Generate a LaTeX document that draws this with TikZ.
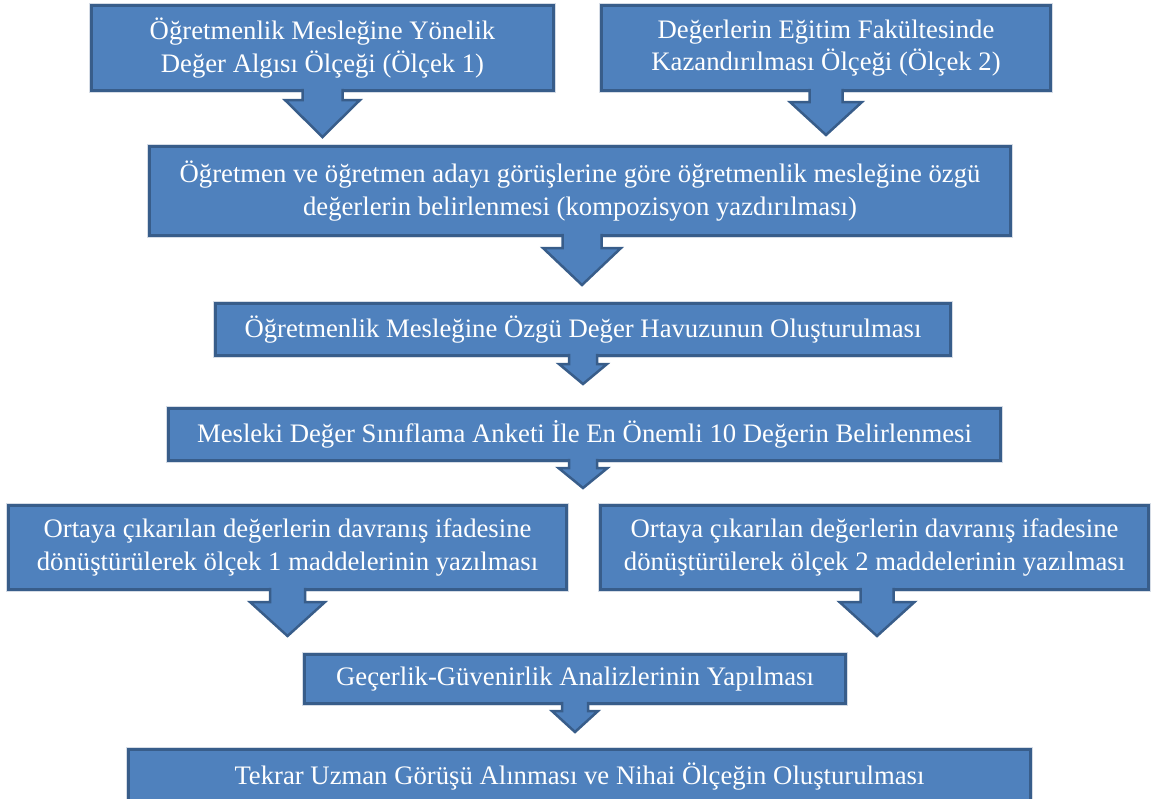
\documentclass[tikz,border=0pt]{standalone}
\usepackage{fontspec}
\setmainfont{Liberation Serif}
\usetikzlibrary{calc}
\definecolor{boxfill}{HTML}{4F81BD}
\definecolor{boxline}{HTML}{385D8A}
\definecolor{glow}{HTML}{D5DCE6}
\tikzset{
  flowbox/.style={draw=boxline, line width=3pt, fill=boxfill, text=white,
    align=center, inner sep=0pt, outer sep=0pt,
    font=\fontsize{26.7}{32.5}\selectfont,
    preaction={draw=glow, line width=5.5pt}},
  arrfill/.style={fill=boxfill},
  arrline/.style={draw=boxline, line width=2.5pt, line join=miter},
}
% #1 source node, #2 target node, #3 x offset, #4 stem half width,
% #5 head half width, #6 stem length, #7 gap before target
\newcommand{\blockarr}[7]{%
  \fill[arrfill] let \p1=($(#1.south)+(#3pt,0pt)$), \p2=(#2.north) in
    (\x1-#4pt,\y1+1.6pt) -- (\x1-#4pt,\y1-#6pt-1.5pt) -- (\x1-#5pt,\y1-#6pt-1.5pt)
    -- (\x1,\y2+#7pt+1.5pt) -- (\x1+#5pt,\y1-#6pt-1.5pt) -- (\x1+#4pt,\y1-#6pt-1.5pt)
    -- (\x1+#4pt,\y1+1.6pt) -- cycle;
  \draw[arrline] let \p1=($(#1.south)+(#3pt,0pt)$), \p2=(#2.north) in
    (\x1-#4pt,\y1+1.6pt) -- (\x1-#4pt,\y1-#6pt-1.5pt) -- (\x1-#5pt,\y1-#6pt-1.5pt)
    -- (\x1,\y2+#7pt+1.5pt) -- (\x1+#5pt,\y1-#6pt-1.5pt) -- (\x1+#4pt,\y1-#6pt-1.5pt)
    -- (\x1+#4pt,\y1+1.6pt);
}
\begin{document}
\begin{tikzpicture}[x=1pt,y=-1pt]
\useasboundingbox (0,0) rectangle (1151,798);
\clip (0,0) rectangle (1151,798);
\node[flowbox, minimum width=462pt, minimum height=85pt] (A) at (322.5,48)
  {Öğretmenlik Mesleğine Yönelik\\Değer Algısı Ölçeği (Ölçek 1)};
\node[flowbox, minimum width=449pt, minimum height=85pt] (B) at (826,48)
  {Değerlerin Eğitim Fakültesinde\\Kazandırılması Ölçeği (Ölçek 2)};
\node[flowbox, minimum width=861pt, minimum height=89pt] (C) at (580,191)
  {Öğretmen ve öğretmen adayı görüşlerine göre öğretmenlik mesleğine özgü\\değerlerin belirlenmesi (kompozisyon yazdırılması)};
\node[flowbox, minimum width=735pt, minimum height=52pt] (D) at (583,329.5)
  {Öğretmenlik Mesleğine Özgü Değer Havuzunun Oluşturulması};
\node[flowbox, minimum width=832pt, minimum height=52pt] (E) at (584.5,434.5)
  {Mesleki Değer Sınıflama Anketi İle En Önemli 10 Değerin Belirlenmesi};
\node[flowbox, minimum width=558pt, minimum height=84pt] (F1) at (287.5,547.5)
  {Ortaya çıkarılan değerlerin davranış ifadesine\\dönüştürülerek ölçek 1 maddelerinin yazılması};
\node[flowbox, minimum width=548pt, minimum height=84pt] (F2) at (874.5,547.5)
  {Ortaya çıkarılan değerlerin davranış ifadesine\\dönüştürülerek ölçek 2 maddelerinin yazılması};
\node[flowbox, minimum width=541pt, minimum height=49pt] (G) at (575,679)
  {Geçerlik-Güvenirlik Analizlerinin Yapılması};
\node[flowbox, minimum width=902pt, minimum height=54pt] (H) at (579.5,776.5)
  {Tekrar Uzman Görüşü Alınması ve Nihai Ölçeğin Oluşturulması};
\blockarr{A}{C}{0}{20}{37.5}{8}{8}
\blockarr{B}{C}{0}{16.5}{36}{10}{10}
\blockarr{C}{D}{2}{19.5}{39}{11}{17}
\blockarr{D}{E}{0}{14}{24}{7}{23}
\blockarr{E}{F1}{-1.5}{14}{24.5}{6}{16}
\blockarr{F1}{G}{0}{17.5}{37.5}{11}{17}
\blockarr{F2}{G}{2.5}{16.5}{37.5}{11}{17}
\blockarr{G}{H}{0}{13}{23}{6}{16}
\end{tikzpicture}
\end{document}
